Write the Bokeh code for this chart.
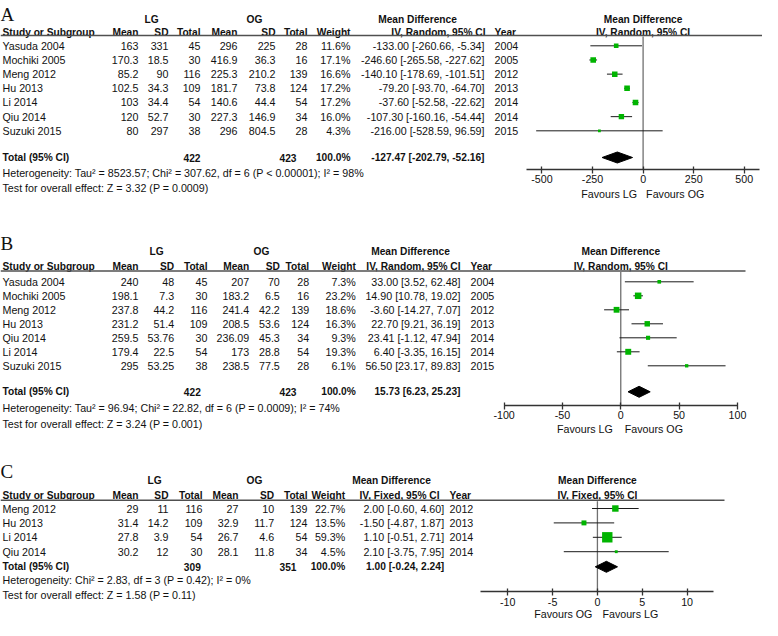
import math
from bokeh.plotting import figure
from bokeh.models import Range1d, LinearAxis, FixedTicker, ColumnDataSource, PrintfTickFormatter
from bokeh.core.properties import value
from bokeh.embed import file_html
from bokeh.resources import INLINE

# ---------------- data ----------------
# Panel A
A_studies = ["Yasuda 2004", "Mochiki 2005", "Meng 2012", "Hu 2013", "Li 2014", "Qiu 2014", "Suzuki 2015"]
A_lg_mean = [163, 170.3, 85.2, 102.5, 103, 120, 80]
A_lg_sd = [331, 18.5, 90, 34.3, 34.4, 52.7, 297]
A_lg_n = [45, 30, 116, 109, 54, 30, 38]
A_og_mean = [296, 416.9, 225.3, 181.7, 140.6, 227.3, 296]
A_og_sd = [225, 36.3, 210.2, 73.8, 44.4, 146.9, 804.5]
A_og_n = [28, 16, 139, 124, 54, 34, 28]
A_weight = [11.6, 17.1, 16.6, 17.2, 17.2, 16.0, 4.3]
A_md = [-133.00, -246.60, -140.10, -79.20, -37.60, -107.30, -216.00]
A_lo = [-260.66, -265.58, -178.69, -93.70, -52.58, -160.16, -528.59]
A_hi = [-5.34, -227.62, -101.51, -64.70, -22.62, -54.44, 96.59]
A_year = ["2004", "2005", "2012", "2013", "2014", "2014", "2015"]
A_total = dict(lg=422, og=423, md=-127.47, lo=-202.79, hi=-52.16)
A_het = "Heterogeneity: Tau\u00b2 = 8523.57; Chi\u00b2 = 307.62, df = 6 (P < 0.00001); I\u00b2 = 98%"
A_test = "Test for overall effect: Z = 3.32 (P = 0.0009)"
A_method = "IV, Random, 95% CI"
A_ticks = [-500, -250, 0, 250, 500]
A_favours = ["Favours LG", "Favours OG"]

# Panel B
B_studies = ["Yasuda 2004", "Mochiki 2005", "Meng 2012", "Hu 2013", "Qiu 2014", "Li 2014", "Suzuki 2015"]
B_lg_mean = [240, 198.1, 237.8, 231.2, 259.5, 179.4, 295]
B_lg_sd = [48, 7.3, 44.2, 51.4, 53.76, 22.5, 53.25]
B_lg_n = [45, 30, 116, 109, 30, 54, 38]
B_og_mean = [207, 183.2, 241.4, 208.5, 236.09, 173, 238.5]
B_og_sd = [70, 6.5, 42.2, 53.6, 45.3, 28.8, 77.5]
B_og_n = [28, 16, 139, 124, 34, 54, 28]
B_weight = [7.3, 23.2, 18.6, 16.3, 9.3, 19.3, 6.1]
B_md = [33.00, 14.90, -3.60, 22.70, 23.41, 6.40, 56.50]
B_lo = [3.52, 10.78, -14.27, 9.21, -1.12, -3.35, 23.17]
B_hi = [62.48, 19.02, 7.07, 36.19, 47.94, 16.15, 89.83]
B_year = ["2004", "2005", "2012", "2013", "2014", "2014", "2015"]
B_total = dict(lg=422, og=423, md=15.73, lo=6.23, hi=25.23)
B_het = "Heterogeneity: Tau\u00b2 = 96.94; Chi\u00b2 = 22.82, df = 6 (P = 0.0009); I\u00b2 = 74%"
B_test = "Test for overall effect: Z = 3.24 (P = 0.001)"
B_method = "IV, Random, 95% CI"
B_ticks = [-100, -50, 0, 50, 100]
B_favours = ["Favours LG", "Favours OG"]

# Panel C
C_studies = ["Meng 2012", "Hu 2013", "Li 2014", "Qiu 2014"]
C_lg_mean = [29, 31.4, 27.8, 30.2]
C_lg_sd = [11, 14.2, 3.9, 12]
C_lg_n = [116, 109, 54, 30]
C_og_mean = [27, 32.9, 26.7, 28.1]
C_og_sd = [10, 11.7, 4.6, 11.8]
C_og_n = [139, 124, 54, 34]
C_weight = [22.7, 13.5, 59.3, 4.5]
C_md = [2.00, -1.50, 1.10, 2.10]
C_lo = [-0.60, -4.87, -0.51, -3.75]
C_hi = [4.60, 1.87, 2.71, 7.95]
C_year = ["2012", "2013", "2014", "2014"]
C_total = dict(lg=309, og=351, md=1.00, lo=-0.24, hi=2.24)
C_het = "Heterogeneity: Chi\u00b2 = 2.83, df = 3 (P = 0.42); I\u00b2 = 0%"
C_test = "Test for overall effect: Z = 1.58 (P = 0.11)"
C_method = "IV, Fixed, 95% CI"
C_ticks = [-10, -5, 0, 5, 10]
C_favours = ["Favours OG", "Favours LG"]

# ---------------- style / layout ----------------
W, H = 762, 620
FONT = "Liberation Sans"
FS = "10.7px"
FSB = "10.2px"
TXT = "#111111"
GREEN = "#00b400"
RULE = "#505050"
ZERO = "#707070"
AXIS = "#333333"

p = figure(width=W, height=H, x_range=Range1d(0, W), y_range=Range1d(H, 0),
           x_axis_type=None, y_axis_type=None, toolbar_location=None,
           output_backend="svg", min_border=0, outline_line_color=None,
           background_fill_color="white", border_fill_color="white")

p.extra_x_ranges = {
    "A": Range1d(-3176.5, 590.2),
    "B": Range1d(-531.7, 121.5),
    "C": Range1d(-66.57, 18.41),
}


def fmt(v):
    return f"{v:g}"


def txt(x, y, text, align="left", bold=False, size=None, font=FONT,
        baseline="middle", rn=None, x_offset=0):
    kw = {}
    if rn is not None:
        kw["x_range_name"] = rn
    if size is None:
        size = FSB if bold else FS
    src = ColumnDataSource(dict(x=list(x), y=list(y), t=list(text)))
    p.text(x="x", y="y", text="t", source=src, text_align=align,
           text_baseline=baseline, text_font=value(font),
           text_font_size=value(size),
           text_font_style="bold" if bold else "normal",
           text_color=TXT, x_offset=x_offset, **kw)


def panel(letter, d, L, rn):
    n = len(d["studies"])
    ys = [L["row0"] + i * L["pitch"] for i in range(n)]
    # panel letter
    txt([L["letter_x"]], [L["letter_y"]], [letter], font="Liberation Serif",
        size="19px", baseline="alphabetic")
    # header lines
    txt([L["lg_c"], L["og_c"]], [L["gh"]] * 2, ["LG", "OG"], align="center", bold=True)
    txt([L["mdh_c"]], [L["gh"]], ["Mean Difference"], align="center", bold=True)
    txt([L["study_x"]], [L["ch"]], ["Study or Subgroup"], bold=True)
    cols = L["cols"]
    txt(cols, [L["ch"]] * 7, ["Mean", "SD", "Total", "Mean", "SD", "Total", "Weight"],
        align="right", bold=True)
    txt([L["ci_h"]], [L["ch"]], [d["method"]], align="right", bold=True)
    txt([L["year_x"]], [L["ch"]], ["Year"], bold=True)
    # forest header
    txt([0], [L["gh"]], ["Mean Difference"], align="center", bold=True, rn=rn)
    txt([0], [L["ch"]], [d["method"]], align="center", bold=True, rn=rn)
    # rule
    p.segment(x0=[0], x1=[L["rule_end"]], y0=[L["rule"]], y1=[L["rule"]],
              line_color=RULE, line_width=1.5)
    # body
    txt([L["study_x"]] * n, ys, d["studies"])
    arrays = [d["lg_mean"], d["lg_sd"], d["lg_n"], d["og_mean"], d["og_sd"], d["og_n"]]
    for cx, arr in zip(cols[:6], arrays):
        txt([cx] * n, ys, [fmt(v) for v in arr], align="right")
    txt([cols[6]] * n, ys, [f"{w:.1f}%" for w in d["weight"]], align="right")
    txt([L["ci_v"]] * n, ys,
        [f"{m:.2f} [{a:.2f}, {b:.2f}]" for m, a, b in zip(d["md"], d["lo"], d["hi"])],
        align="right")
    txt([L["year_x"]] * n, ys, d["year"])
    # total row
    T = d["total"]
    ty = L["total"]
    txt([L["study_x"]], [ty], ["Total (95% CI)"], bold=True)
    txt([L["tot_lg"], L["tot_og"], cols[6]], [ty] * 3,
        [fmt(T["lg"]), fmt(T["og"]), "100.0%"], align="right", bold=True)
    txt([L["ci_v"]], [ty], [f"{T['md']:.2f} [{T['lo']:.2f}, {T['hi']:.2f}]"],
        align="right", bold=True)
    txt([L["study_x"]], [L["het"]], [d["het"]])
    txt([L["study_x"]], [L["test"]], [d["test"]])

    # forest: zero line
    p.segment(x0=[0], x1=[0], y0=[L["rule"] + 1], y1=[L["axis"]], x_range_name=rn,
              line_color=ZERO, line_width=1.3)
    # CI whiskers
    p.segment(x0=d["lo"], x1=d["hi"], y0=ys, y1=ys, x_range_name=rn,
              line_color="#1a1a1a", line_width=1)
    # weighted squares
    sizes = [1.35 * math.sqrt(w) for w in d["weight"]]
    p.scatter(x=d["md"], y=ys, size=sizes, marker="square", x_range_name=rn,
              fill_color=GREEN, line_color=None)
    # diamond
    hh = 5.5
    p.patch(x=[T["lo"], T["md"], T["hi"], T["md"]],
            y=[ty, ty - hh, ty, ty + hh], x_range_name=rn,
            fill_color="black", line_color="black", line_width=1)
    # axis
    ax = LinearAxis(x_range_name=rn, fixed_location=L["axis"],
                    ticker=FixedTicker(ticks=d["ticks"]), bounds=L["bounds"],
                    formatter=PrintfTickFormatter(format="%d"))
    ax.axis_line_color = AXIS
    ax.axis_line_width = 1.3
    ax.major_tick_line_color = AXIS
    ax.major_tick_line_width = 1.3
    ax.major_tick_in = 3
    ax.major_tick_out = 4
    ax.minor_tick_line_color = None
    ax.major_label_standoff = 2
    ax.major_label_text_font = FONT
    ax.major_label_text_font_size = FS
    ax.major_label_text_color = TXT
    p.add_layout(ax, "below")
    # favours
    fo = L["fav_off"]
    txt([0], [L["fav"]], [d["favours"][0]], align="right", rn=rn, x_offset=fo[0])
    txt([0], [L["fav"]], [d["favours"][1]], align="left", rn=rn, x_offset=fo[1])


def pack(prefix):
    g = globals()
    return dict(studies=g[prefix + "studies"], lg_mean=g[prefix + "lg_mean"],
                lg_sd=g[prefix + "lg_sd"], lg_n=g[prefix + "lg_n"],
                og_mean=g[prefix + "og_mean"], og_sd=g[prefix + "og_sd"],
                og_n=g[prefix + "og_n"], weight=g[prefix + "weight"],
                md=g[prefix + "md"], lo=g[prefix + "lo"], hi=g[prefix + "hi"],
                year=g[prefix + "year"], total=g[prefix + "total"],
                het=g[prefix + "het"], test=g[prefix + "test"],
                method=g[prefix + "method"], ticks=g[prefix + "ticks"],
                favours=g[prefix + "favours"])


LA = dict(letter_x=0, letter_y=14, gh=19, ch=32, rule=35, rule_end=W,
          row0=45.3, pitch=14.17, total=157, het=172, test=187, axis=168.7, fav=193.7,
          study_x=2, cols=[138, 168, 200, 237, 275, 307, 350], ci_h=485, ci_v=484,
          year_x=494, lg_c=151, og_c=254, mdh_c=417, tot_lg=200, tot_og=296,
          bounds=(-575, 575), fav_off=(-6, 3))
LB = dict(letter_x=0, letter_y=243, gh=251.3, ch=266.3, rule=270.5, rule_end=745,
          row0=281.3, pitch=14.0, total=391.3, het=407, test=423, axis=404.7, fav=428,
          study_x=2, cols=[138, 173.7, 207, 248.7, 279.3, 308.7, 355.3], ci_h=460, ci_v=460,
          year_x=470, lg_c=156, og_c=261, mdh_c=410, tot_lg=200.3, tot_og=296,
          bounds=(-100, 100), fav_off=(-8, 4))
LC = dict(letter_x=0, letter_y=471, gh=480.3, ch=494.7, rule=499.7, rule_end=724,
          row0=508, pitch=14.4, total=566.3, het=579.7, test=594, axis=591.3, fav=613,
          study_x=2, cols=[138, 168, 202, 238, 273.7, 307, 344.7], ci_h=439, ci_v=443.7,
          year_x=449, lg_c=154, og_c=254, mdh_c=391, tot_lg=200.3, tot_og=296,
          bounds=(-13, 13), fav_off=(-5, 5))

panel("A", pack("A_"), LA, "A")
panel("B", pack("B_"), LB, "B")
panel("C", pack("C_"), LC, "C")

open("out.html", "w").write(file_html(p, INLINE))
